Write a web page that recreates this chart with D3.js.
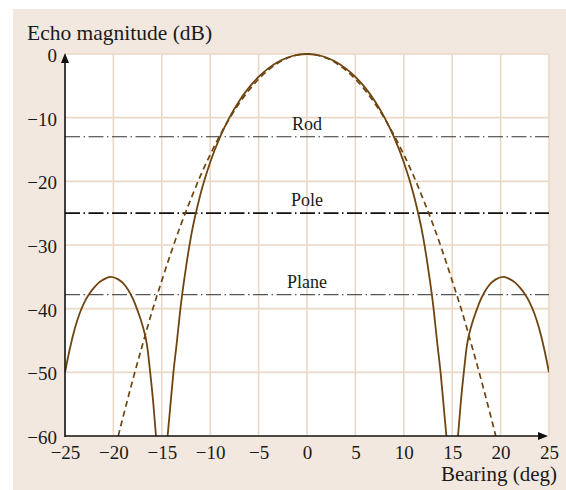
<!DOCTYPE html>
<html>
<head>
<meta charset="utf-8">
<script src="https://cdn.jsdelivr.net/npm/d3@7"></script>
<style>
body { margin: 0; background: #fff; }
svg text { font-family: "Liberation Serif", "DejaVu Serif", serif; fill: #1a1a1a; }
</style>
</head>
<body>
<div id="chart"></div>
<script>
// Data (bearing in deg, echo in dB)

var xTicks = [-25, -20, -15, -10, -5, 0, 5, 10, 15, 20, 25];
var yTicks = [0, -10, -20, -30, -40, -50, -60];

// main lobe, solid
var mainLobe = [
	[-14.4, -60], [-14.1, -55], [-13.8, -50], [-13.5, -46], [-13, -39], [-12.5, -33.5],
	[-12, -28.8], [-11, -22], [-10, -17], [-9, -13.1], [-8, -9.95], [-7, -7.37],
	[-6, -5.28], [-5, -3.6], [-4, -2.26], [-3, -1.26], [-2, -0.55], [-1, -0.14], [0, 0],
	[1, -0.14], [2, -0.55], [3, -1.26], [4, -2.26], [5, -3.6], [6, -5.28], [7, -7.37],
	[8, -9.95], [9, -13.1], [10, -17], [11, -22], [12, -28.8], [12.5, -33.5], [13, -39],
	[13.5, -46], [13.8, -50], [14.1, -55], [14.4, -60]
];

// side lobes, solid
var leftLobe = [
	[-25, -50], [-24.5, -46.3], [-24, -43.2], [-23.5, -40.8], [-23, -39], [-22.5, -37.7],
	[-22, -36.7], [-21.5, -35.9], [-21, -35.4], [-20.3, -35], [-19.5, -35.4], [-19, -36],
	[-18.5, -37], [-18, -38.4], [-17.5, -40.3], [-17, -42.6], [-16.5, -46], [-16.2, -50],
	[-15.9, -54.5], [-15.6, -60]
];
var rightLobe = [
	[15.6, -60], [15.9, -54.5], [16.2, -50], [16.5, -46], [17, -42.6], [17.5, -40.3],
	[18, -38.4], [18.5, -37], [19, -36], [19.5, -35.4], [20.3, -35], [21, -35.4],
	[21.5, -35.9], [22, -36.7], [22.5, -37.7], [23, -39], [23.5, -40.8], [24, -43.2],
	[24.5, -46.3], [25, -50]
];

// dashed beam
var dashedBeam = [
	[-19.5, -60], [-19, -57], [-18, -51.2], [-17, -45.7], [-16, -40.4], [-15, -35.6],
	[-14, -31], [-13, -26.7], [-12, -22.8], [-11, -19.1], [-10, -15.8], [-9, -12.8],
	[-8, -10.1], [-7, -7.74], [-6, -5.69], [-5, -3.95], [-4, -2.53], [-3, -1.42],
	[-2, -0.63], [-1, -0.16], [0, 0], [1, -0.16], [2, -0.63], [3, -1.42], [4, -2.53],
	[5, -3.95], [6, -5.69], [7, -7.74], [8, -10.1], [9, -12.8], [10, -15.8], [11, -19.1],
	[12, -22.8], [13, -26.7], [14, -31], [15, -35.6], [16, -40.4], [17, -45.7],
	[18, -51.2], [19, -57], [19.5, -60]
];

// target levels
var targetNames = ["Rod", "Pole", "Plane"];
var targetLevels = [-13, -25, -37.8];

// Globals
var width = 566;
var height = 490;
var svg = d3.select("#chart")
	.append("svg")
	.attr("width", width)
	.attr("height", height);

var colBrown = "#6e4510";
var colGrid = "#ead9c6";

// panel
svg.append("rect")
	.attr("x", 13).attr("y", 9)
	.attr("width", width - 13).attr("height", height - 9)
	.attr("fill", "#f2e8df");

var x = d3.scaleLinear().domain([-25, 25]).range([65, 549]);
var y = d3.scaleLinear().domain([-60, 0]).range([436, 54]);

svg.append("rect")
	.attr("x", x(-25)).attr("y", y(0))
	.attr("width", x(25) - x(-25)).attr("height", y(-60) - y(0))
	.attr("fill", "#fff");

// grid
svg.append("g").selectAll("line")
	.data(xTicks.filter(d => d > -25))
	.enter().append("line")
		.attr("x1", d => x(d)).attr("x2", d => x(d))
		.attr("y1", y(0)).attr("y2", y(-60))
		.attr("stroke", colGrid).attr("stroke-width", 1.6);

svg.append("g").selectAll("line")
	.data(yTicks.filter(d => d > -60))
	.enter().append("line")
		.attr("x1", x(-25)).attr("x2", x(25))
		.attr("y1", d => y(d)).attr("y2", d => y(d))
		.attr("stroke", colGrid).attr("stroke-width", 1.6);

svg.append("clipPath").attr("id", "clip")
	.append("rect")
	.attr("x", x(-25)).attr("y", y(0) - 2)
	.attr("width", x(25) - x(-25)).attr("height", y(-60) - y(0) + 2);

var plot = svg.append("g").attr("clip-path", "url(#clip)");

// target lines
var targetStyle = [
	{w: 1.2, c: "#333"},
	{w: 1.9, c: "#111"},
	{w: 1.3, c: "#555"}
];
targetLevels.forEach(function(v, i) {
	plot.append("line")
		.attr("x1", x(-25)).attr("x2", x(25))
		.attr("y1", y(v)).attr("y2", y(v))
		.attr("stroke", targetStyle[i].c)
		.attr("stroke-width", targetStyle[i].w)
		.attr("stroke-dasharray", "15,3.5,1.5,3.5");
	svg.append("text")
		.attr("x", x(0))
		.attr("y", y(v) - 7)
		.attr("text-anchor", "middle")
		.style("font-size", "18px")
		.text(targetNames[i]);
});

var line = d3.line()
	.x(d => x(d[0]))
	.y(d => y(d[1]))
	.curve(d3.curveMonotoneX);

plot.append("path").datum(dashedBeam)
	.attr("d", line)
	.attr("fill", "none").attr("stroke", colBrown)
	.attr("stroke-width", 1.7)
	.attr("stroke-dasharray", "6,4");

[mainLobe, leftLobe, rightLobe].forEach(function(s) {
	plot.append("path").datum(s)
		.attr("d", line)
		.attr("fill", "none").attr("stroke", colBrown)
		.attr("stroke-width", 1.8);
});

// axes
var yAxis = d3.axisLeft(y).tickValues(yTicks).tickSize(0).tickPadding(8)
	.tickFormat(d => d < 0 ? "\u2212" + Math.abs(d) : d);
var gy = svg.append("g").attr("transform", "translate(" + x(-25) + ",0)").call(yAxis);
gy.select(".domain").remove();
gy.selectAll("text").style("font-size", "19px").attr("font-family", null).attr("dy", "0.4em");

var xAxis = d3.axisBottom(x).tickValues(xTicks).tickSize(0).tickPadding(10)
	.tickFormat(d => d < 0 ? "\u2212" + Math.abs(d) : d);
var gx = svg.append("g").attr("transform", "translate(0," + y(-60) + ")").call(xAxis);
gx.select(".domain").remove();
gx.selectAll("text").style("font-size", "19px").attr("font-family", null);

svg.append("line")
	.attr("x1", x(-25)).attr("x2", x(-25))
	.attr("y1", y(-60) + 1).attr("y2", y(0) + 4)
	.attr("stroke", "#111").attr("stroke-width", 1.6);
svg.append("path")
	.attr("d", "M" + x(-25) + "," + (y(0) - 1) + " l-4,10 l8,0 z")
	.attr("fill", "#111");

svg.append("line")
	.attr("x1", x(-25)).attr("x2", x(25) - 4)
	.attr("y1", y(-60)).attr("y2", y(-60))
	.attr("stroke", "#111").attr("stroke-width", 1.6);
svg.append("path")
	.attr("d", "M" + (x(25) - 1) + "," + y(-60) + " l-10,-4 l0,8 z")
	.attr("fill", "#111");

// titles
svg.append("text")
	.attr("x", 27).attr("y", 40)
	.style("font-size", "21.5px")
	.text("Echo magnitude (dB)");

svg.append("text")
	.attr("x", 557).attr("y", 481)
	.attr("text-anchor", "end")
	.style("font-size", "21px")
	.text("Bearing (deg)");
</script>
</body>
</html>
